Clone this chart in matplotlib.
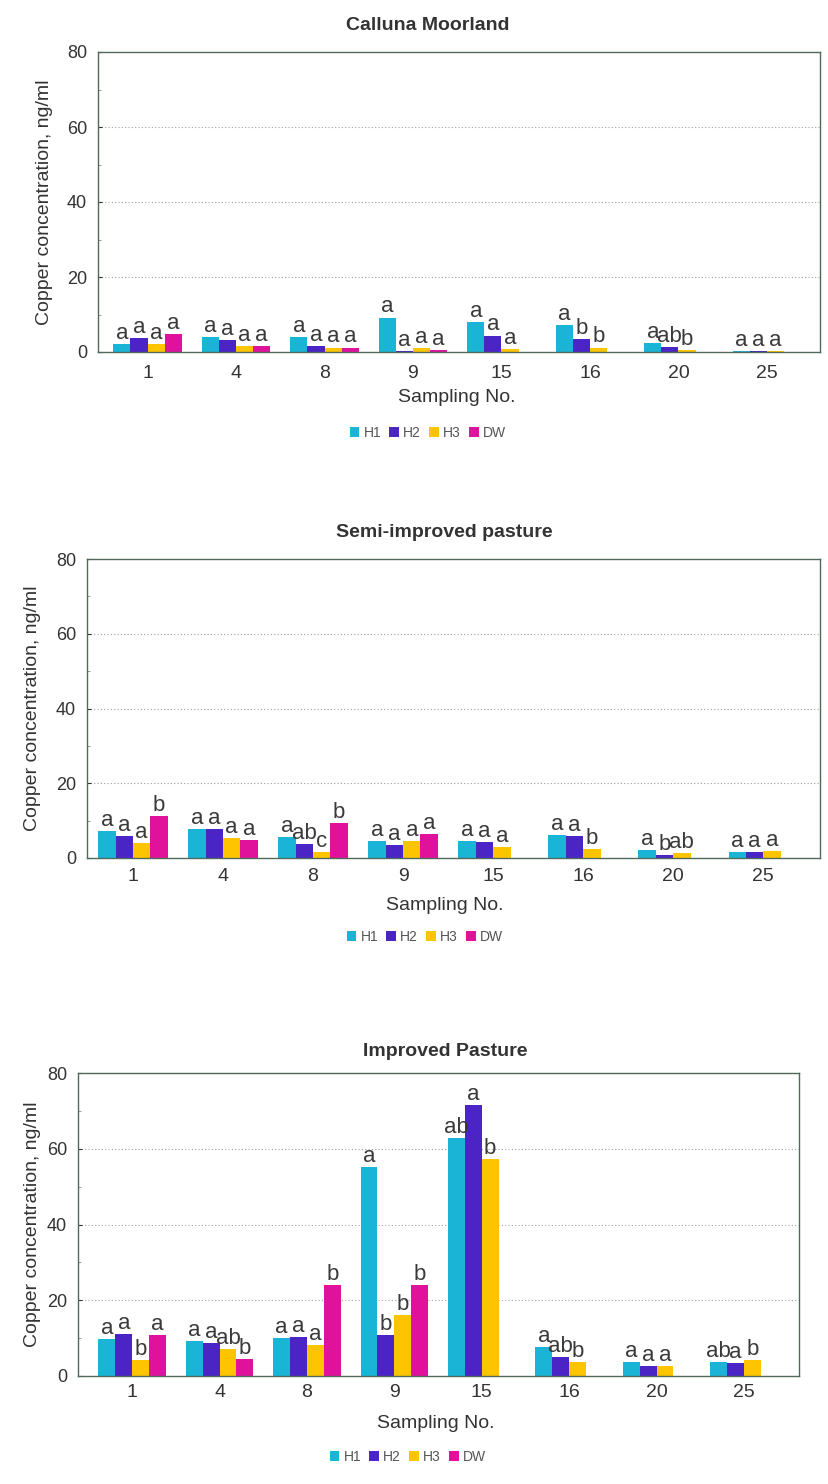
import matplotlib.pyplot as plt
import numpy as np

plt.rcParams['font.family'] = ['Liberation Sans', 'DejaVu Sans']

samplings = ['1', '4', '8', '9', '15', '16', '20', '25']
series = ['H1', 'H2', 'H3', 'DW']
colors = ['#19b4d6', '#4a24c4', '#ffc400', '#e0129c']

# Calluna Moorland
calluna_h1 = [2.2, 4.0, 4.0, 9.2, 8.0, 7.1, 2.4, 0.4]
calluna_h2 = [3.8, 3.1, 1.6, 0.2, 4.4, 3.6, 1.3, 0.2]
calluna_h3 = [2.2, 1.6, 1.2, 1.1, 0.7, 1.2, 0.5, 0.2]
calluna_dw = [4.9, 1.6, 1.2, 0.6, np.nan, np.nan, np.nan, np.nan]
calluna_letters = [['a', 'a', 'a', 'a'], ['a', 'a', 'a', 'a'], ['a', 'a', 'a', 'a'],
                   ['a', 'a', 'a', 'a'], ['a', 'a', 'a', ''], ['a', 'b', 'b', ''],
                   ['a', 'ab', 'b', ''], ['a', 'a', 'a', '']]

# Semi-improved pasture
semi_h1 = [7.3, 7.7, 5.6, 4.5, 4.5, 6.2, 2.1, 1.6]
semi_h2 = [5.9, 7.7, 3.7, 3.4, 4.2, 6.0, 0.7, 1.7]
semi_h3 = [4.0, 5.4, 1.7, 4.5, 3.0, 2.3, 1.4, 1.9]
semi_dw = [11.2, 4.7, 9.3, 6.5, np.nan, np.nan, np.nan, np.nan]
semi_letters = [['a', 'a', 'a', 'b'], ['a', 'a', 'a', 'a'], ['a', 'ab', 'c', 'b'],
                ['a', 'a', 'a', 'a'], ['a', 'a', 'a', ''], ['a', 'a', 'b', ''],
                ['a', 'b', 'ab', ''], ['a', 'a', 'a', '']]

# Improved Pasture
impr_h1 = [9.8, 9.2, 10.0, 55.1, 62.9, 7.6, 3.6, 3.7]
impr_h2 = [11.1, 8.7, 10.2, 10.8, 71.6, 5.1, 2.7, 3.4]
impr_h3 = [4.3, 7.1, 8.3, 16.0, 57.2, 3.7, 2.7, 4.3]
impr_dw = [10.7, 4.6, 24.0, 24.0, np.nan, np.nan, np.nan, np.nan]
impr_letters = [['a', 'a', 'b', 'a'], ['a', 'a', 'ab', 'b'], ['a', 'a', 'a', 'b'],
                ['a', 'b', 'b', 'b'], ['ab', 'a', 'b', ''], ['a', 'ab', 'b', ''],
                ['a', 'a', 'a', ''], ['ab', 'a', 'b', '']]

W, H = 829, 1484

# pixel layout: axes box (left, right, top, bottom), xlim, tick pad,
# title (x, y), ylabel x, xlabel (x, y), legend (x, y)
panels = [
    dict(title='Calluna Moorland', values=[calluna_h1, calluna_h2, calluna_h3, calluna_dw],
         letters=calluna_letters, box=(98, 820, 52, 352), xlim=(-0.56, 7.6), pad=9,
         title_xy=(428, 26), ylab_x=45, xlab_xy=(457, 398), leg_xy=(428, 433)),
    dict(title='Semi-improved pasture', values=[semi_h1, semi_h2, semi_h3, semi_dw],
         letters=semi_letters, box=(87, 820, 559, 858), xlim=(-0.51, 7.63), pad=7,
         title_xy=(444, 533), ylab_x=33, xlab_xy=(445, 905), leg_xy=(425, 937)),
    dict(title='Improved Pasture', values=[impr_h1, impr_h2, impr_h3, impr_dw],
         letters=impr_letters, box=(78, 799, 1073, 1376), xlim=(-0.62, 7.63), pad=6,
         title_xy=(445, 1052), ylab_x=33, xlab_xy=(436, 1423), leg_xy=(408, 1457)),
]

fig = plt.figure(figsize=(W / 100, H / 100), dpi=100)

width = 0.193
x = np.arange(len(samplings))
txt = '#333333'

for p in panels:
    l, r, t, b = p['box']
    ax = fig.add_axes([l / W, 1 - b / H, (r - l) / W, (b - t) / H])
    handles = []
    for i, (name, vals, col) in enumerate(zip(series, p['values'], colors)):
        pos = x + (i - 1.5) * width
        bars = ax.bar(pos, vals, width, color=col, label=name)
        handles.append(bars)
        for j, v in enumerate(vals):
            lab = p['letters'][j][i]
            if lab and not np.isnan(v):
                ax.annotate(lab, (pos[j], v), xytext=(0, 0), textcoords='offset points',
                            ha='center', va='bottom', fontsize=16, color='#3a3a3a')

    ax.set_ylim(0, 80)
    ax.set_xlim(*p['xlim'])
    ax.set_yticks([0, 20, 40, 60, 80])
    ax.set_yticks([10, 30, 50, 70], minor=True)
    ax.set_xticks(x)
    ax.set_xticklabels(samplings)
    ax.tick_params(axis='x', length=0, pad=p['pad'], labelsize=14, colors=txt)
    ax.tick_params(axis='y', which='major', length=3, direction='in', labelsize=13,
                   colors=txt, pad=8)
    ax.tick_params(axis='y', which='minor', length=2, direction='in', colors='#888888')
    for y in [20, 40, 60]:
        ax.axhline(y, color='#a0a0a0', linestyle=(0, (1, 2)), linewidth=0.8, zorder=0)
    for sp in ax.spines.values():
        sp.set_color('#4f6a5a')
        sp.set_linewidth(1.0)

    fig.text(p['title_xy'][0] / W, 1 - p['title_xy'][1] / H, p['title'],
             ha='center', va='center', fontsize=14, fontweight='bold', color=txt)
    fig.text(p['ylab_x'] / W, 1 - (t + b) / 2 / H, 'Copper concentration, ng/ml',
             ha='center', va='center', rotation=90, fontsize=14, color=txt)
    fig.text(p['xlab_xy'][0] / W, 1 - p['xlab_xy'][1] / H, 'Sampling No.',
             ha='center', va='center', fontsize=14, color=txt)

    fig.legend(handles=handles, loc='center',
               bbox_to_anchor=(p['leg_xy'][0] / W, 1 - p['leg_xy'][1] / H),
               ncol=4, frameon=False, fontsize=10, handlelength=0.7, handleheight=0.7,
               handletextpad=0.3, columnspacing=0.6, labelcolor='#555555')

fig.savefig('out.png', dpi=100)
